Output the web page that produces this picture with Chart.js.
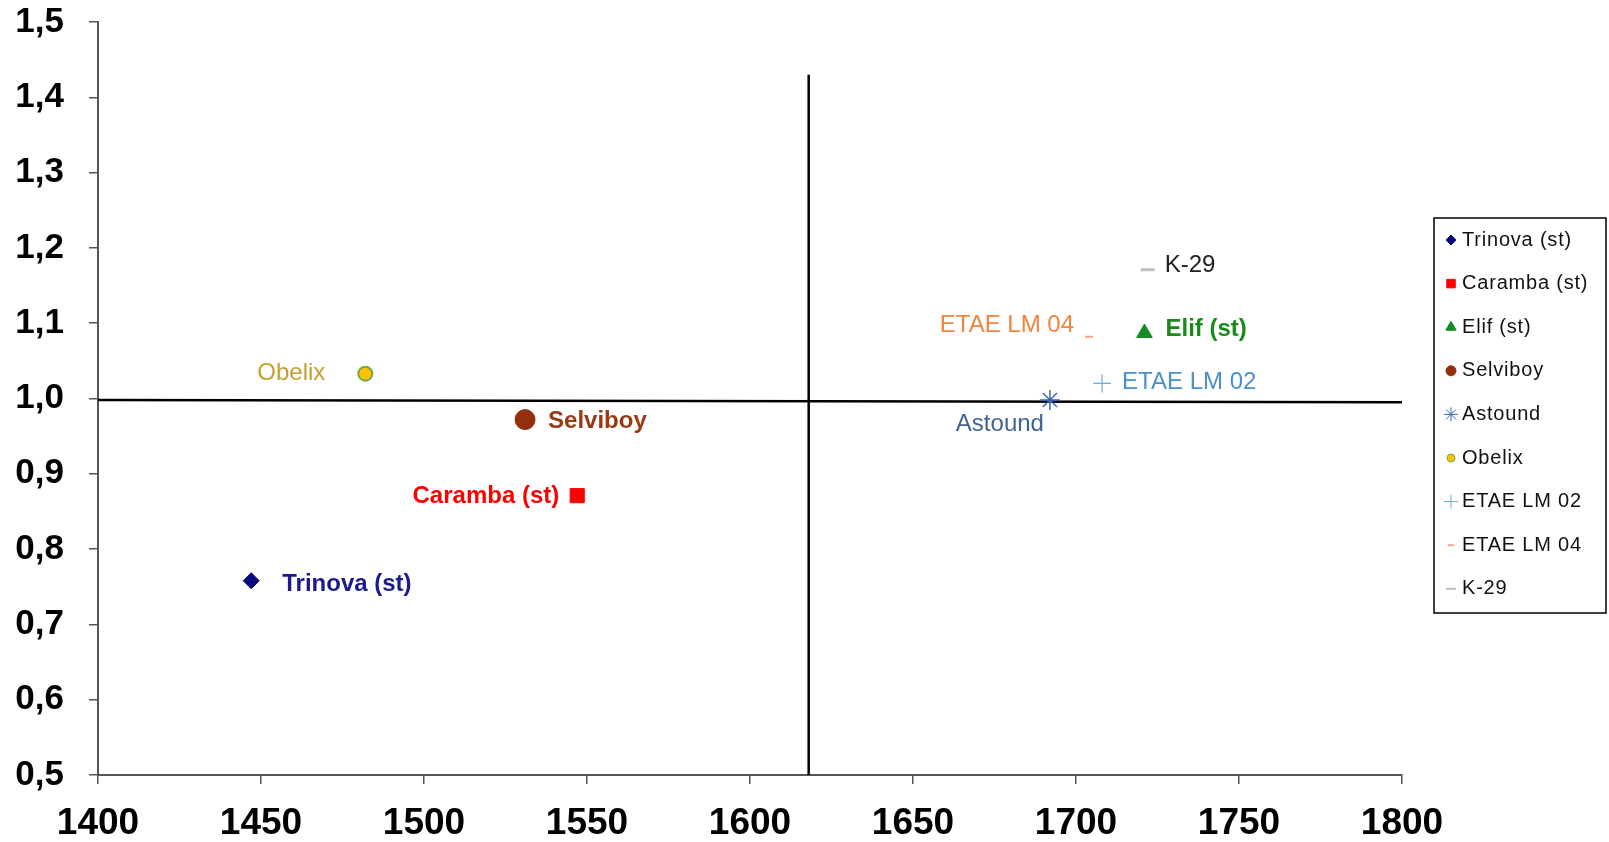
<!DOCTYPE html>
<html lang="en">
<head>
    <meta charset="UTF-8">
    <title>Varieties scatter</title>
    <script src="https://cdn.jsdelivr.net/npm/chart.js"></script>
    <style>
        body { margin: 0; background: #fff; }
        #wrap { width: 1609px; height: 842px; }
    </style>
</head>
<body>
    <div id="wrap"><canvas id="chart"></canvas></div>

    <script>
        // data
        const varieties = ['Trinova (st)', 'Caramba (st)', 'Elif (st)', 'Selviboy', 'Astound', 'Obelix', 'ETAE LM 02', 'ETAE LM 04', 'K-29'];
        const xValues = [1447, 1547, 1721, 1531, 1692, 1482, 1708, 1704, 1722];
        const yValues = [0.758, 0.871, 1.087, 0.972, 0.998, 1.033, 1.020, 1.082, 1.171];

        // reference lines (mean values)
        const vLineX = [1618, 1618];
        const vLineY = [0.5, 1.43];
        const hLineX = [1400, 1800];
        const hLineY = [0.998, 0.995];

        const xTicks = [1400, 1450, 1500, 1550, 1600, 1650, 1700, 1750, 1800];
        const xTickLabels = ['1400', '1450', '1500', '1550', '1600', '1650', '1700', '1750', '1800'];
        const yTickLabels = ['0,5', '0,6', '0,7', '0,8', '0,9', '1,0', '1,1', '1,2', '1,3', '1,4', '1,5'];

        const FONT = "'Liberation Sans', Arial, sans-serif";

        // marker + label styles, same order as varieties
        const styles = [
            { shape: 'rectRot',  r: 8,  fill: '#0b0b7e', stroke: '#0b0b7e', bw: 1, lr: 5, label: '#1a1a8c', bold: true,  dx: 31,  dy: 4,  align: 'left' },
            { shape: 'rect',     r: 10, fill: '#ff0000', stroke: '#ff0000', bw: 1, lr: 6, label: '#ff0000', bold: true,  dx: -18, dy: 1,  align: 'right' },
            { shape: 'triangle', r: 9,  fill: '#168a25', stroke: '#168a25', bw: 1, lr: 6, label: '#1a8a1a', bold: true,  dx: 21,  dy: -4, align: 'left' },
            { shape: 'circle',   r: 10, fill: '#92300e', stroke: '#92300e', bw: 1, lr: 5, label: '#9a3a14', bold: true,  dx: 23,  dy: 2,  align: 'left' },
            { shape: 'star',     r: 10, fill: '#3a66b8', stroke: '#3a66b8', bw: 1.5, lr: 7, label: '#3e6494', bold: false, dx: -6,  dy: 24, align: 'right' },
            { shape: 'circle',   r: 7,  fill: '#ffc000', stroke: '#70ad47', bw: 2, lr: 4, label: '#c4a030', bold: false, dx: -40, dy: 0,  align: 'right' },
            { shape: 'cross',    r: 9,  fill: '#6fa8dc', stroke: '#6fa8dc', bw: 1.2, lr: 7, label: '#4a8fd0', bold: false, dx: 20,  dy: -1, align: 'left' },
            { shape: 'line',     r: 4,  fill: '#f4a582', stroke: '#f4a582', bw: 2, lr: 3, label: '#f0863c', bold: false, dx: -15, dy: -11, align: 'right' },
            { shape: 'line',     r: 7,  fill: '#bfbfbf', stroke: '#bfbfbf', bw: 3, lr: 5, label: '#222222', bold: false, dx: 17,  dy: -4, align: 'left' }
        ];

        const pointSets = varieties.map((name, i) => ({
            label: name,
            data: [{ x: xValues[i], y: yValues[i] }],
            pointStyle: styles[i].shape,
            pointRadius: styles[i].r,
            pointBackgroundColor: styles[i].fill,
            pointBorderColor: styles[i].stroke,
            pointBorderWidth: styles[i].bw
        }));

        const lineSets = [
            { label: 'vline', data: vLineX.map((x, i) => ({ x: x, y: vLineY[i] })) },
            { label: 'hline', data: hLineX.map((x, i) => ({ x: x, y: hLineY[i] })) }
        ].map(d => Object.assign(d, {
            showLine: true, pointRadius: 0, borderColor: '#000', borderWidth: 2.5, clip: false
        }));

        // text next to each point
        const pointLabels = {
            id: 'pointLabels',
            afterDatasetsDraw(chart) {
                const ctx = chart.ctx;
                ctx.save();
                ctx.textBaseline = 'middle';
                varieties.forEach((name, i) => {
                    const p = chart.getDatasetMeta(i).data[0];
                    const s = styles[i];
                    ctx.font = (s.bold ? 'bold ' : '') + '24px ' + FONT;
                    ctx.fillStyle = s.label;
                    ctx.textAlign = s.align;
                    ctx.fillText(name, p.x + s.dx, p.y + s.dy);
                });
                ctx.restore();
            }
        };

        // boxed legend on the right
        const boxLegend = {
            id: 'boxLegend',
            afterDraw(chart) {
                const ctx = chart.ctx;
                const left = 1434, top = 218, w = 172, h = 395, step = 43.6;
                ctx.save();
                ctx.strokeStyle = '#000';
                ctx.lineWidth = 1.5;
                ctx.strokeRect(left, top, w, h);
                ctx.font = '20px ' + FONT;
                ctx.letterSpacing = '0.8px';
                ctx.textBaseline = 'middle';
                ctx.textAlign = 'left';
                varieties.forEach((name, i) => {
                    const s = styles[i];
                    const y = top + 22 + i * step;
                    ctx.fillStyle = s.fill;
                    ctx.strokeStyle = s.stroke;
                    ctx.lineWidth = s.shape === 'line' ? 2 : 1;
                    Chart.helpers.drawPoint(ctx, { pointStyle: s.shape, radius: s.lr, rotation: 0, borderWidth: 1 }, left + 17, y);
                    ctx.fillStyle = '#111';
                    ctx.fillText(name, left + 28, y);
                });
                ctx.restore();
            }
        };

        new Chart(document.getElementById('chart'), {
            type: 'scatter',
            data: { datasets: pointSets.concat(lineSets) },
            options: {
                responsive: true,
                maintainAspectRatio: false,
                animation: false,
                layout: { padding: { top: 22, right: 207, bottom: 0, left: 0 } },
                plugins: {
                    legend: { display: false },
                    tooltip: { enabled: false }
                },
                scales: {
                    x: {
                        type: 'linear',
                        min: 1400,
                        max: 1800,
                        afterBuildTicks: s => { s.ticks = xTicks.map(v => ({ value: v })); },
                        afterFit: s => { s.height = 67; s.paddingLeft = 0; s.paddingRight = 0; },
                        border: { display: true, color: '#555', width: 2 },
                        grid: { drawOnChartArea: false, drawTicks: true, tickLength: 9, color: '#555', lineWidth: 1.5 },
                        ticks: {
                            color: '#000',
                            padding: 18,
                            font: { family: FONT, size: 37, weight: 'bold' },
                            callback: (v, i) => xTickLabels[i]
                        }
                    },
                    y: {
                        min: 0.5,
                        max: 1.5,
                        afterFit: s => { s.width = 98; s.paddingTop = 0; s.paddingBottom = 0; },
                        border: { display: true, color: '#555', width: 2 },
                        grid: { drawOnChartArea: false, drawTicks: true, tickLength: 9, color: '#555', lineWidth: 1.5 },
                        ticks: {
                            stepSize: 0.1,
                            color: '#000',
                            padding: 25,
                            font: { family: FONT, size: 35, weight: 'bold' },
                            callback: (v, i) => yTickLabels[i]
                        }
                    }
                }
            },
            plugins: [pointLabels, boxLegend]
        });
    </script>
</body>
</html>
